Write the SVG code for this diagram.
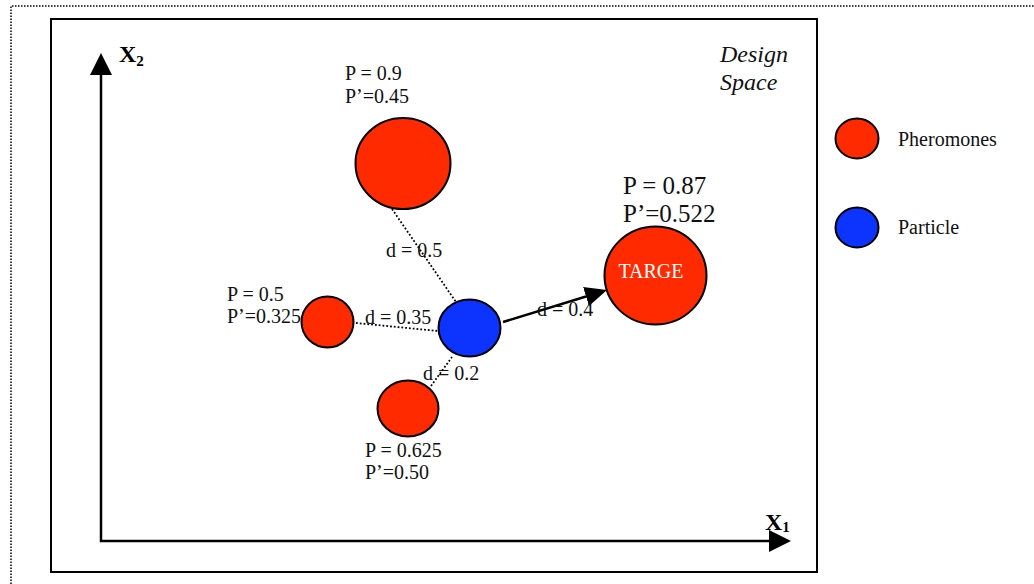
<svg xmlns="http://www.w3.org/2000/svg" width="1034" height="584" viewBox="0 0 1034 584">
  <style>
    .lbl { font-family: "Liberation Serif", "Times New Roman", serif; font-size: 20px; fill: #111; }
    .big { font-family: "Liberation Serif", "Times New Roman", serif; font-size: 25px; fill: #111; }
    .ital { font-family: "Liberation Serif", "Times New Roman", serif; font-size: 24px; font-style: italic; fill: #111; }
    .axis { font-family: "Liberation Serif", "Times New Roman", serif; font-weight: bold; fill: #000; }
    .pher { fill: #FF2A00; stroke: #000; stroke-width: 2; }
    .part { fill: #0D33FF; stroke: #000; stroke-width: 2; }
    .dots { fill: none; stroke: #000; stroke-width: 1.8; stroke-dasharray: 1.8 2; }
    .solid { fill: none; stroke: #000; stroke-width: 2.5; }
  </style>
  <defs>
    <marker id="head" viewBox="0 0 22 22" refX="0" refY="11" markerWidth="22" markerHeight="22" markerUnits="userSpaceOnUse" orient="auto-start-reverse">
      <path d="M0,0 L22,11 L0,22 Z" fill="#000"/>
    </marker>
    <marker id="head2" viewBox="0 0 22 20" refX="0" refY="10" markerWidth="22" markerHeight="20" markerUnits="userSpaceOnUse" orient="auto">
      <path d="M0,0 L22,10 L0,20 Z" fill="#000"/>
    </marker>
  </defs>

  <rect width="1034" height="584" fill="#fff"/>

  <!-- outer dotted frame -->
  <path d="M11,584 L11,6 L1034,6" fill="none" stroke="#000" stroke-width="1.5" stroke-dasharray="1.5 1.5"/>

  <!-- design space frame -->
  <rect x="51" y="19" width="766" height="553" fill="none" stroke="#000" stroke-width="2"/>

  <!-- axes -->
  <g id="axes">
    <polyline points="101,75 101,541 769,541" fill="none" stroke="#000" stroke-width="2.5" marker-start="url(#head)" marker-end="url(#head)"/>
    <text class="axis" x="119" y="62" font-size="24">X<tspan font-size="15" dy="4">2</tspan></text>
    <text class="axis" x="765" y="530" font-size="24">X<tspan font-size="15" dy="2">1</tspan></text>
  </g>

  <text class="ital" x="720" y="62">Design</text>
  <text class="ital" x="720" y="90">Space</text>

  <!-- connectors -->
  <g id="connectors">
    <line class="dots" x1="392" y1="209" x2="456" y2="302"/>
    <line class="dots" x1="356" y1="323" x2="438" y2="331"/>
    <line class="dots" x1="431" y1="386" x2="452" y2="357"/>
    <line class="solid" x1="503" y1="322" x2="586" y2="296.5" marker-end="url(#head2)"/>
    <text class="lbl" x="386" y="257">d = 0.5</text>
    <text class="lbl" x="365" y="324">d = 0.35</text>
    <text class="lbl" x="423" y="380">d = 0.2</text>
    <text class="lbl" x="537" y="316">d = 0.4</text>
  </g>

  <!-- pheromone nodes -->
  <g id="pheromone-top">
    <ellipse class="pher" cx="403" cy="163.5" rx="47.5" ry="45.5"/>
    <text class="lbl" x="345" y="80">P = 0.9</text>
    <text class="lbl" x="345" y="103">P’=0.45</text>
  </g>
  <g id="pheromone-left">
    <ellipse class="pher" cx="327.5" cy="322" rx="26" ry="25.5"/>
    <text class="lbl" x="227" y="301">P = 0.5</text>
    <text class="lbl" x="227" y="323">P’=0.325</text>
  </g>
  <g id="pheromone-bottom">
    <ellipse class="pher" cx="408" cy="408.5" rx="30.5" ry="28"/>
    <text class="lbl" x="365" y="457">P = 0.625</text>
    <text class="lbl" x="365" y="479">P’=0.50</text>
  </g>
  <g id="target">
    <ellipse class="pher" cx="655.5" cy="275.5" rx="51" ry="49"/>
    <text class="lbl" x="651" y="278" text-anchor="middle" style="fill:#fff" font-size="19">TARGE</text>
    <text class="big" x="623" y="194">P = 0.87</text>
    <text class="big" x="623" y="222">P’=0.522</text>
  </g>

  <!-- particle -->
  <g id="particle">
    <ellipse class="part" cx="469.5" cy="328" rx="31" ry="28.5"/>
  </g>

  <!-- legend -->
  <g id="legend-pheromones">
    <ellipse class="pher" cx="857" cy="138.5" rx="21.5" ry="20"/>
    <text class="lbl" x="898" y="146">Pheromones</text>
  </g>
  <g id="legend-particle">
    <ellipse class="part" cx="857" cy="227.5" rx="21.5" ry="20"/>
    <text class="lbl" x="898" y="234">Particle</text>
  </g>
</svg>
